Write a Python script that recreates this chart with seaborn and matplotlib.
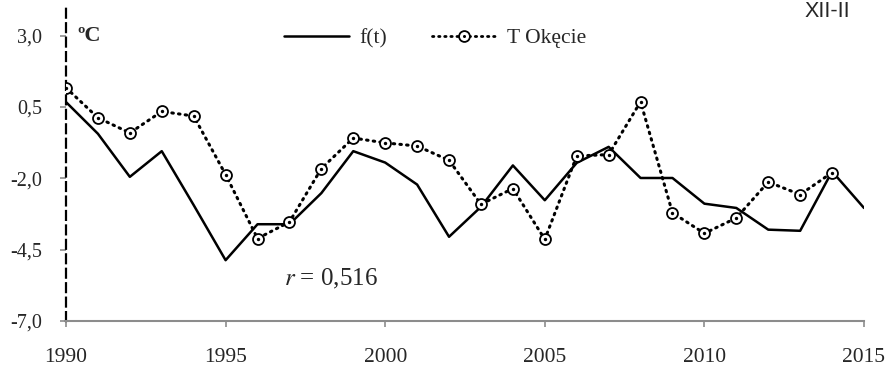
import numpy as np
import pandas as pd
import matplotlib
matplotlib.use("Agg")
import matplotlib.pyplot as plt
from matplotlib.lines import Line2D
from matplotlib.legend_handler import HandlerTuple
import seaborn as sns

# Winter (XII-II) mean temperature: model f(t) vs. observed at Warsaw-Okęcie
years = list(range(1990, 2016))
f_t = [0.67, -0.44, -1.95, -1.05, -2.94, -4.87, -3.61, -3.61, -2.52, -1.05,
       -1.45, -2.22, -4.05, -3.00, -1.55, -2.77, -1.46, -0.90, -1.99, -1.99,
       -2.89, -3.04, -3.80, -3.84, -1.76, -3.04]
obs_years = list(range(1990, 2015))
t_okecie = [1.17, 0.12, -0.41, 0.34, 0.18, -1.87, -4.11, -3.53, -1.66, -0.59,
            -0.76, -0.87, -1.37, -2.91, -2.36, -4.14, -1.22, -1.17, 0.68, -3.21,
            -3.93, -3.39, -2.13, -2.57, -1.80]
y_ticks = [-7.0, -4.5, -2.0, 0.5, 3.0]
y_tick_labels = ["-7,0", "-4,5", "-2,0", "0,5", "3,0"]
x_ticks = [1990, 1995, 2000, 2005, 2010, 2015]
r_value = "0,516"

df_model = pd.DataFrame({"year": years, "temp": f_t})
df_obs = pd.DataFrame({"year": obs_years, "temp": t_okecie})

sns.set_style("white")
plt.rcParams["font.family"] = ["Liberation Serif", "DejaVu Serif"]
plt.rcParams["mathtext.fontset"] = "stix"

fig = plt.figure(figsize=(8.88, 3.70), dpi=100)
ax = fig.add_axes([66 / 888, 1 - 321 / 370, (864 - 66) / 888, (321 - 7) / 370])

dot_style = (0, (0.5, 1.7))
sns.lineplot(data=df_model, x="year", y="temp", ax=ax, color="black",
             linewidth=1.8, legend=False)
sns.lineplot(data=df_obs, x="year", y="temp", ax=ax, color="black",
             linewidth=2.2, linestyle=dot_style, legend=False,
             dash_capstyle="round")
sns.scatterplot(data=df_obs, x="year", y="temp", ax=ax, marker="o", s=62,
                facecolor="white", edgecolor="black", linewidth=1.3, zorder=3,
                legend=False)
sns.scatterplot(data=df_obs, x="year", y="temp", ax=ax, marker="o", s=6,
                color="black", linewidth=0, zorder=4, legend=False)

ax.set_xlim(1990, 2015)
ax.set_ylim(-7.0, 4.0)
ax.set_xticks(x_ticks)
ax.set_xticklabels([str(x) for x in x_ticks], fontsize=15.5)
ax.set_yticks(y_ticks)
ax.set_yticklabels(y_tick_labels, fontsize=14.5)
ax.set_xlabel("")
ax.set_ylabel("")

for side in ("top", "right"):
    ax.spines[side].set_visible(False)
ax.spines["bottom"].set_color("#8c8c8c")
ax.spines["bottom"].set_linewidth(1.5)
ax.spines["left"].set_color("black")
ax.spines["left"].set_linewidth(1.6)
ax.spines["left"].set_linestyle((0, (4, 2.5)))
ax.tick_params(axis="x", direction="out", length=4, width=1.2,
               color="#8c8c8c", pad=15.5, bottom=True)
ax.tick_params(axis="y", direction="out", length=4, width=1.2,
               color="#8c8c8c", pad=13, left=True)

ax.annotate("ºC", xy=(1990, 3.0), xytext=(8, 0), textcoords="offset points",
            fontsize=16, fontweight="bold", va="center", ha="left")
ax.text(1998.3, -5.74, rf"$r$ = {r_value}", fontsize=18,
        ha="center", va="baseline")
fig.text(827 / 888, 1 - 17 / 370, "XII-II", fontsize=15.5,
         family="Liberation Sans", ha="center", va="baseline")

model_handle = Line2D([], [], color="black", linewidth=1.8)
obs_line = Line2D([], [], color="black", linewidth=2.0, linestyle=dot_style,
                  dash_capstyle="round")
obs_ring = Line2D([], [], color="black", linestyle="none", marker="o",
                  markersize=7.8, markerfacecolor="white", markeredgewidth=1.3)
obs_dot = Line2D([], [], color="black", linestyle="none", marker="o",
                 markersize=2.2, markeredgewidth=0)
fig.legend([model_handle, (obs_line, obs_ring, obs_dot)], ["f(t)", "T Okęcie"],
           handler_map={tuple: HandlerTuple(ndivide=1)},
           ncol=2, frameon=False, fontsize=15.5, handlelength=3.0,
           columnspacing=2.1, handletextpad=0.47,
           loc="center", bbox_to_anchor=(435 / 888, 1 - 38 / 370))

fig.savefig("out.png", dpi=100)
